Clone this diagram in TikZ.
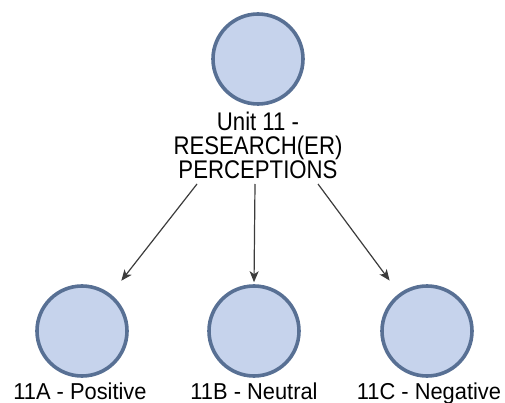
\documentclass[tikz,border=0pt]{standalone}
\usepackage{fontspec}
\setmainfont{Liberation Sans}
\newfontfamily\toplabfont[FakeStretch=0.87]{Liberation Sans}
\newfontfamily\botlabfont[FakeStretch=0.95]{Liberation Sans}
\usetikzlibrary{arrows.meta}
\definecolor{cfill}{RGB}{198,211,236}
\definecolor{cdraw}{RGB}{88,112,148}
\definecolor{carr}{RGB}{60,60,60}
\begin{document}
\begin{tikzpicture}[x=1pt,y=-1pt,
  unit/.style={circle,draw=cdraw,fill=cfill,line width=3.6pt,minimum size=90pt,inner sep=0pt},
  toplab/.style={font=\toplabfont\fontsize{25.5}{24}\selectfont,inner sep=0pt,align=center,text=black},
  botlab/.style={font=\botlabfont\fontsize{23}{23}\selectfont,inner sep=0pt,text=black},
  arr/.style={draw=carr,line width=1.2pt,-{Stealth[length=11pt,width=9pt,inset=3pt]}}]
\useasboundingbox (0,0) rectangle (505,403);
\node[unit] (top) at (258,59) {};
\node[toplab,anchor=north] (tl) at (258,112) {Unit 11 -\\RESEARCH(ER)\\PERCEPTIONS};
\node[unit] (a) at (82,331) {};
\node[unit] (b) at (254,331) {};
\node[unit] (c) at (427,331) {};
\node[botlab,anchor=base] (al) at (80,399) {11A - Positive};
\node[botlab,anchor=base] (bl) at (254,399) {11B - Neutral};
\node[botlab,anchor=base] (cl) at (429,399) {11C - Negative};
\coordinate (sa) at (197,184);
\coordinate (sb) at (255,184);
\coordinate (sc) at (318,184);
\draw[arr,shorten >=17pt] (sa) -- (a);
\draw[arr,shorten >=2pt] (sb) -- (b.north);
\draw[arr,shorten >=16pt] (sc) -- (c);
\end{tikzpicture}
\end{document}
